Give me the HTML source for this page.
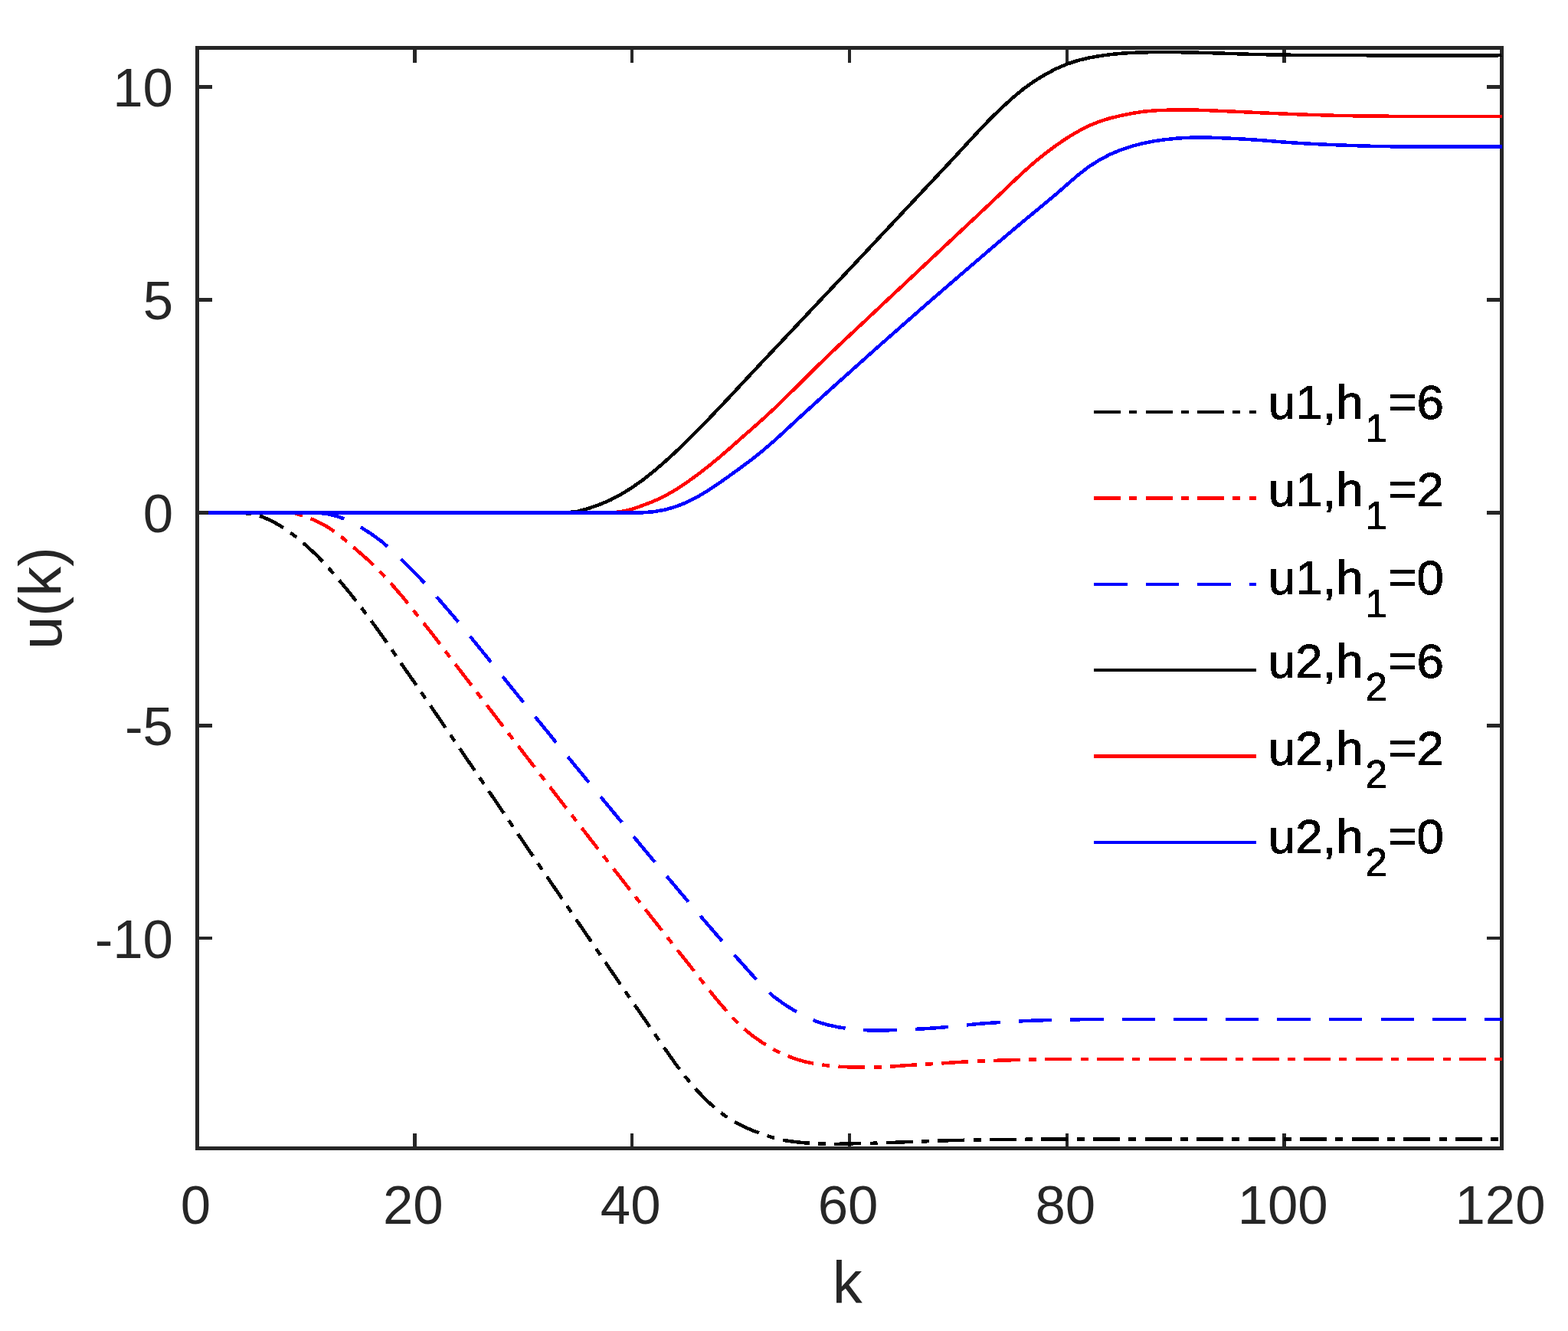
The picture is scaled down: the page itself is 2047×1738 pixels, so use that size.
<!DOCTYPE html>
<html lang="en"><head><meta charset="utf-8"><title>u(k)</title>
<style>
html,body{margin:0;padding:0;background:#fff}
body{width:2047px;height:1738px;overflow:hidden}
svg{display:block}
text{font-family:"Liberation Sans",sans-serif}
.t{font-size:70.8px;fill:#262626}
.l{font-size:77.9px;fill:#262626}
.g{font-size:63.75px;fill:#000;stroke:#000;stroke-width:0.6px}
.s{font-size:51.0px;fill:#000;stroke:#000;stroke-width:0.6px}
.c{fill:none;stroke-width:4.5;stroke-linejoin:round}
</style></head><body>
<svg width="2047" height="1738" viewBox="0 0 2047 1738">
<defs><filter id="al" x="-5%" y="-5%" width="110%" height="110%"><feComponentTransfer><feFuncA type="discrete" tableValues="0 1 1"/></feComponentTransfer></filter></defs>
<rect x="0" y="0" width="2047" height="1738" fill="#fff"/>
<g stroke="#262626" stroke-width="4.4" fill="none" shape-rendering="crispEdges">
<rect x="257.5" y="62.5" width="1703.0" height="1437.0"/>
<line x1="541.33" y1="1497.0" x2="541.33" y2="1480.0"/>
<line x1="541.33" y1="65.0" x2="541.33" y2="82.0"/>
<line x1="825.17" y1="1497.0" x2="825.17" y2="1480.0"/>
<line x1="825.17" y1="65.0" x2="825.17" y2="82.0"/>
<line x1="1109.00" y1="1497.0" x2="1109.00" y2="1480.0"/>
<line x1="1109.00" y1="65.0" x2="1109.00" y2="82.0"/>
<line x1="1392.83" y1="1497.0" x2="1392.83" y2="1480.0"/>
<line x1="1392.83" y1="65.0" x2="1392.83" y2="82.0"/>
<line x1="1676.67" y1="1497.0" x2="1676.67" y2="1480.0"/>
<line x1="1676.67" y1="65.0" x2="1676.67" y2="82.0"/>
<line x1="260.0" y1="113.50" x2="277.0" y2="113.50"/>
<line x1="1958.0" y1="113.50" x2="1941.0" y2="113.50"/>
<line x1="260.0" y1="391.50" x2="277.0" y2="391.50"/>
<line x1="1958.0" y1="391.50" x2="1941.0" y2="391.50"/>
<line x1="260.0" y1="669.50" x2="277.0" y2="669.50"/>
<line x1="1958.0" y1="669.50" x2="1941.0" y2="669.50"/>
<line x1="260.0" y1="947.30" x2="277.0" y2="947.30"/>
<line x1="1958.0" y1="947.30" x2="1941.0" y2="947.30"/>
<line x1="260.0" y1="1225.00" x2="277.0" y2="1225.00"/>
<line x1="1958.0" y1="1225.00" x2="1941.0" y2="1225.00"/>
</g>
<g class="t" text-anchor="middle">
<text x="255.5" y="1598.3">0</text>
<text x="539.3" y="1598.3">20</text>
<text x="823.2" y="1598.3">40</text>
<text x="1107.0" y="1598.3">60</text>
<text x="1390.8" y="1598.3">80</text>
<text x="1674.7" y="1598.3">100</text>
<text x="1958.5" y="1598.3">120</text>
</g>
<g class="t" text-anchor="end">
<text x="226.0" y="139.2">10</text>
<text x="226.0" y="417.2">5</text>
<text x="226.0" y="695.2">0</text>
<text x="226.0" y="973.0">-5</text>
<text x="226.0" y="1250.7">-10</text>
</g>
<text class="l" text-anchor="middle" x="1106.3" y="1702.2">k</text>
<text class="l" text-anchor="middle" transform="translate(80 781) rotate(-90)">u(k)</text>
<g class="c" shape-rendering="crispEdges">
<polyline stroke="#000" stroke-dasharray="35 11.28 10 11.28" points="271.7,669.5 285.9,669.5 300.1,669.4 314.3,669.6 328.5,671.0 342.6,674.8 356.8,681.3 371.0,689.7 385.2,700.1 399.4,712.1 413.6,725.2 427.8,740.3 442.0,756.8 456.2,773.7 470.4,791.8 484.6,810.6 498.8,830.2 513.0,850.7 527.1,871.2 541.3,891.5 555.5,912.0 569.7,932.8 583.9,953.6 598.1,974.4 612.3,995.2 626.5,1016.0 640.7,1036.8 654.9,1057.7 669.1,1078.5 683.2,1099.4 697.4,1120.2 711.6,1141.1 725.8,1161.9 740.0,1182.7 754.2,1203.6 768.4,1224.4 782.6,1245.2 796.8,1266.0 811.0,1286.8 825.2,1307.4 839.4,1327.9 853.5,1348.3 867.7,1369.0 881.9,1389.2 896.1,1407.7 910.3,1424.4 924.5,1438.8 938.7,1451.3 952.9,1461.5 967.1,1469.3 981.3,1475.7 995.5,1481.1 1009.7,1485.6 1023.9,1489.1 1038.0,1491.1 1052.2,1492.4 1066.4,1493.2 1080.6,1493.7 1094.8,1493.8 1109.0,1493.4 1123.2,1493.0 1137.4,1492.8 1151.6,1492.5 1165.8,1491.9 1180.0,1491.3 1194.2,1490.8 1208.3,1490.3 1222.5,1489.8 1236.7,1489.3 1250.9,1488.9 1265.1,1488.6 1279.3,1488.4 1293.5,1488.2 1307.7,1488.0 1321.9,1487.9 1336.1,1487.8 1350.3,1487.6 1364.5,1487.5 1378.6,1487.5 1392.8,1487.5 1407.0,1487.5 1421.2,1487.5 1435.4,1487.5 1449.6,1487.5 1463.8,1487.5 1478.0,1487.5 1492.2,1487.5 1506.4,1487.5 1520.6,1487.5 1534.8,1487.5 1548.9,1487.5 1563.1,1487.5 1577.3,1487.5 1591.5,1487.5 1605.7,1487.5 1619.9,1487.5 1634.1,1487.5 1648.3,1487.5 1662.5,1487.5 1676.7,1487.5 1690.9,1487.5 1705.0,1487.5 1719.2,1487.5 1733.4,1487.5 1747.6,1487.5 1761.8,1487.5 1776.0,1487.5 1790.2,1487.5 1804.4,1487.5 1818.6,1487.5 1832.8,1487.5 1847.0,1487.5 1861.2,1487.5 1875.3,1487.5 1889.5,1487.5 1903.7,1487.5 1917.9,1487.5 1932.1,1487.5 1946.3,1487.5 1960.5,1487.5"/>
<polyline stroke="#f00" stroke-dasharray="35 11.28 10 11.28" points="271.7,669.5 285.9,669.5 300.1,669.5 314.3,669.5 328.5,669.5 342.6,669.5 356.8,669.5 371.0,669.4 385.2,670.4 399.4,674.4 413.6,680.7 427.8,688.2 442.0,697.9 456.2,710.0 470.4,722.3 484.6,734.8 498.8,749.3 513.0,764.8 527.1,781.2 541.3,799.0 555.5,816.7 569.7,834.7 583.9,853.5 598.1,872.1 612.3,890.6 626.5,909.1 640.7,927.5 654.9,946.0 669.1,964.4 683.2,982.8 697.4,1001.2 711.6,1019.5 725.8,1037.8 740.0,1056.2 754.2,1074.4 768.4,1092.7 782.6,1110.9 796.8,1129.1 811.0,1147.3 825.2,1165.4 839.4,1183.5 853.5,1201.5 867.7,1219.5 881.9,1237.4 896.1,1255.2 910.3,1273.3 924.5,1291.4 938.7,1308.8 952.9,1325.1 967.1,1339.7 981.3,1351.7 995.5,1361.6 1009.7,1370.3 1023.9,1377.3 1038.0,1382.6 1052.2,1386.7 1066.4,1389.6 1080.6,1391.4 1094.8,1392.7 1109.0,1393.4 1123.2,1393.5 1137.4,1393.5 1151.6,1393.3 1165.8,1392.5 1180.0,1391.4 1194.2,1390.5 1208.3,1389.7 1222.5,1388.9 1236.7,1387.9 1250.9,1387.0 1265.1,1386.2 1279.3,1385.5 1293.5,1385.0 1307.7,1384.6 1321.9,1384.2 1336.1,1383.8 1350.3,1383.5 1364.5,1383.2 1378.6,1382.9 1392.8,1382.9 1407.0,1382.8 1421.2,1382.8 1435.4,1382.8 1449.6,1382.8 1463.8,1382.8 1478.0,1382.8 1492.2,1382.8 1506.4,1382.8 1520.6,1382.8 1534.8,1382.8 1548.9,1382.8 1563.1,1382.8 1577.3,1382.8 1591.5,1382.8 1605.7,1382.8 1619.9,1382.8 1634.1,1382.8 1648.3,1382.8 1662.5,1382.8 1676.7,1382.8 1690.9,1382.8 1705.0,1382.8 1719.2,1382.8 1733.4,1382.8 1747.6,1382.8 1761.8,1382.8 1776.0,1382.8 1790.2,1382.8 1804.4,1382.8 1818.6,1382.8 1832.8,1382.8 1847.0,1382.8 1861.2,1382.8 1875.3,1382.8 1889.5,1382.8 1903.7,1382.8 1917.9,1382.8 1932.1,1382.8 1946.3,1382.8 1960.5,1382.8"/>
<polyline stroke="#00f" stroke-dasharray="43.5 24.06" points="271.7,669.5 285.9,669.5 300.1,669.5 314.3,669.5 328.5,669.5 342.6,669.5 356.8,669.5 371.0,669.5 385.2,669.5 399.4,669.4 413.6,669.6 427.8,671.0 442.0,674.7 456.2,680.4 470.4,688.1 484.6,697.1 498.8,707.5 513.0,719.9 527.1,733.6 541.3,747.6 555.5,762.7 569.7,778.9 583.9,795.3 598.1,811.9 612.3,829.2 626.5,846.7 640.7,864.1 654.9,881.8 669.1,899.4 683.2,916.9 697.4,934.4 711.6,951.8 725.8,969.2 740.0,986.6 754.2,1003.9 768.4,1021.2 782.6,1038.5 796.8,1055.7 811.0,1072.9 825.2,1090.0 839.4,1107.1 853.5,1124.1 867.7,1141.0 881.9,1157.8 896.1,1174.6 910.3,1191.3 924.5,1207.8 938.7,1224.3 952.9,1240.5 967.1,1256.4 981.3,1272.3 995.5,1287.7 1009.7,1301.0 1023.9,1311.4 1038.0,1320.2 1052.2,1328.1 1066.4,1334.1 1080.6,1338.3 1094.8,1341.3 1109.0,1343.5 1123.2,1345.0 1137.4,1345.4 1151.6,1345.4 1165.8,1345.2 1180.0,1344.7 1194.2,1343.9 1208.3,1343.2 1222.5,1342.2 1236.7,1341.0 1250.9,1339.6 1265.1,1338.1 1279.3,1336.7 1293.5,1335.7 1307.7,1334.8 1321.9,1333.9 1336.1,1333.2 1350.3,1332.6 1364.5,1332.2 1378.6,1331.8 1392.8,1331.5 1407.0,1331.3 1421.2,1331.1 1435.4,1331.0 1449.6,1330.9 1463.8,1330.9 1478.0,1330.9 1492.2,1330.9 1506.4,1330.9 1520.6,1330.9 1534.8,1330.9 1548.9,1330.9 1563.1,1330.9 1577.3,1330.9 1591.5,1330.9 1605.7,1330.9 1619.9,1330.9 1634.1,1330.9 1648.3,1330.9 1662.5,1330.9 1676.7,1330.9 1690.9,1330.9 1705.0,1330.9 1719.2,1330.9 1733.4,1330.9 1747.6,1330.9 1761.8,1330.9 1776.0,1330.9 1790.2,1330.9 1804.4,1330.9 1818.6,1330.9 1832.8,1330.9 1847.0,1330.9 1861.2,1330.9 1875.3,1330.9 1889.5,1330.9 1903.7,1330.9 1917.9,1330.9 1932.1,1330.9 1946.3,1330.9 1960.5,1330.9"/>
<polyline stroke="#000" points="271.7,669.5 285.9,669.5 300.1,669.5 314.3,669.5 328.5,669.5 342.6,669.5 356.8,669.5 371.0,669.5 385.2,669.5 399.4,669.5 413.6,669.5 427.8,669.5 442.0,669.5 456.2,669.5 470.4,669.5 484.6,669.5 498.8,669.5 513.0,669.5 527.1,669.5 541.3,669.5 555.5,669.5 569.7,669.5 583.9,669.5 598.1,669.5 612.3,669.5 626.5,669.5 640.7,669.5 654.9,669.5 669.1,669.5 683.2,669.5 697.4,669.5 711.6,669.5 725.8,669.6 740.0,669.4 754.2,667.7 768.4,663.9 782.6,658.9 796.8,652.9 811.0,645.4 825.2,636.6 839.4,626.6 853.5,615.4 867.7,603.2 881.9,590.2 896.1,576.5 910.3,562.3 924.5,547.8 938.7,532.9 952.9,517.9 967.1,502.6 981.3,487.4 995.5,472.2 1009.7,457.2 1023.9,442.1 1038.0,427.1 1052.2,412.0 1066.4,396.9 1080.6,381.8 1094.8,366.7 1109.0,351.6 1123.2,336.5 1137.4,321.3 1151.6,306.1 1165.8,291.0 1180.0,275.8 1194.2,260.7 1208.3,245.6 1222.5,230.5 1236.7,215.4 1250.9,200.1 1265.1,184.6 1279.3,169.3 1293.5,154.5 1307.7,140.8 1321.9,127.9 1336.1,116.1 1350.3,105.9 1364.5,97.3 1378.6,89.8 1392.8,83.7 1407.0,79.0 1421.2,75.6 1435.4,73.1 1449.6,71.1 1463.8,69.8 1478.0,68.9 1492.2,68.4 1506.4,68.1 1520.6,68.0 1534.8,68.1 1548.9,68.4 1563.1,68.7 1577.3,69.1 1591.5,69.5 1605.7,70.0 1619.9,70.4 1634.1,70.9 1648.3,71.2 1662.5,71.4 1676.7,71.7 1690.9,71.8 1705.0,71.9 1719.2,72.0 1733.4,72.0 1747.6,72.1 1761.8,72.1 1776.0,72.2 1790.2,72.3 1804.4,72.4 1818.6,72.5 1832.8,72.5 1847.0,72.6 1861.2,72.6 1875.3,72.6 1889.5,72.6 1903.7,72.6 1917.9,72.6 1932.1,72.6 1946.3,72.4 1960.5,72.2"/>
<polyline stroke="#f00" points="271.7,669.5 285.9,669.5 300.1,669.5 314.3,669.5 328.5,669.5 342.6,669.5 356.8,669.5 371.0,669.5 385.2,669.5 399.4,669.5 413.6,669.5 427.8,669.5 442.0,669.5 456.2,669.5 470.4,669.5 484.6,669.5 498.8,669.5 513.0,669.5 527.1,669.5 541.3,669.5 555.5,669.5 569.7,669.5 583.9,669.5 598.1,669.5 612.3,669.5 626.5,669.5 640.7,669.5 654.9,669.5 669.1,669.5 683.2,669.5 697.4,669.5 711.6,669.5 725.8,669.5 740.0,669.5 754.2,669.5 768.4,669.5 782.6,669.5 796.8,669.5 811.0,668.2 825.2,664.7 839.4,659.9 853.5,654.4 867.7,647.8 881.9,639.7 896.1,630.3 910.3,620.1 924.5,609.1 938.7,597.5 952.9,585.2 967.1,572.6 981.3,560.2 995.5,547.6 1009.7,534.5 1023.9,520.8 1038.0,506.9 1052.2,492.9 1066.4,478.7 1080.6,464.9 1094.8,451.3 1109.0,438.0 1123.2,424.7 1137.4,411.4 1151.6,398.0 1165.8,384.7 1180.0,371.4 1194.2,358.1 1208.3,344.8 1222.5,331.5 1236.7,318.2 1250.9,304.9 1265.1,291.6 1279.3,278.3 1293.5,264.9 1307.7,251.5 1321.9,237.9 1336.1,224.6 1350.3,212.0 1364.5,200.5 1378.6,189.9 1392.8,180.3 1407.0,171.8 1421.2,164.4 1435.4,158.6 1449.6,154.2 1463.8,150.9 1478.0,148.0 1492.2,145.8 1506.4,144.4 1520.6,143.8 1534.8,143.5 1548.9,143.5 1563.1,143.7 1577.3,144.2 1591.5,144.8 1605.7,145.4 1619.9,146.1 1634.1,146.7 1648.3,147.4 1662.5,148.0 1676.7,148.6 1690.9,149.2 1705.0,149.7 1719.2,150.1 1733.4,150.6 1747.6,150.9 1761.8,151.2 1776.0,151.4 1790.2,151.6 1804.4,151.7 1818.6,151.8 1832.8,151.8 1847.0,151.9 1861.2,151.9 1875.3,151.9 1889.5,151.9 1903.7,152.0 1917.9,152.0 1932.1,152.0 1946.3,152.0 1960.5,152.0"/>
<polyline stroke="#00f" points="271.7,669.5 285.9,669.5 300.1,669.5 314.3,669.5 328.5,669.5 342.6,669.5 356.8,669.5 371.0,669.5 385.2,669.5 399.4,669.5 413.6,669.5 427.8,669.5 442.0,669.5 456.2,669.5 470.4,669.5 484.6,669.5 498.8,669.5 513.0,669.5 527.1,669.5 541.3,669.5 555.5,669.5 569.7,669.5 583.9,669.5 598.1,669.5 612.3,669.5 626.5,669.5 640.7,669.5 654.9,669.5 669.1,669.5 683.2,669.5 697.4,669.5 711.6,669.5 725.8,669.5 740.0,669.5 754.2,669.5 768.4,669.5 782.6,669.5 796.8,669.5 811.0,669.5 825.2,669.5 839.4,669.3 853.5,668.2 867.7,665.7 881.9,661.7 896.1,656.1 910.3,648.9 924.5,640.4 938.7,630.9 952.9,620.9 967.1,610.6 981.3,600.0 995.5,588.7 1009.7,576.5 1023.9,563.6 1038.0,550.4 1052.2,537.4 1066.4,524.5 1080.6,511.6 1094.8,498.9 1109.0,486.2 1123.2,473.5 1137.4,460.8 1151.6,448.2 1165.8,435.7 1180.0,423.2 1194.2,410.7 1208.3,398.3 1222.5,386.0 1236.7,373.8 1250.9,361.5 1265.1,349.3 1279.3,337.1 1293.5,324.9 1307.7,312.8 1321.9,300.8 1336.1,288.9 1350.3,277.1 1364.5,265.4 1378.6,253.6 1392.8,241.2 1407.0,228.9 1421.2,217.9 1435.4,208.8 1449.6,201.4 1463.8,195.5 1478.0,190.8 1492.2,187.1 1506.4,184.3 1520.6,182.3 1534.8,180.8 1548.9,179.9 1563.1,179.4 1577.3,179.6 1591.5,180.1 1605.7,180.7 1619.9,181.4 1634.1,182.3 1648.3,183.3 1662.5,184.5 1676.7,185.6 1690.9,186.6 1705.0,187.4 1719.2,188.2 1733.4,188.8 1747.6,189.4 1761.8,189.9 1776.0,190.4 1790.2,190.8 1804.4,191.1 1818.6,191.3 1832.8,191.4 1847.0,191.5 1861.2,191.5 1875.3,191.6 1889.5,191.6 1903.7,191.6 1917.9,191.6 1932.1,191.6 1946.3,191.6 1960.5,191.6"/>
</g>
<g class="c" shape-rendering="crispEdges">
<line stroke="#000" stroke-dasharray="35 11.28 10 11.28" x1="1428" y1="538.0" x2="1640" y2="538.0"/>
<line stroke="#f00" stroke-dasharray="35 11.28 10 11.28" x1="1428" y1="650.5" x2="1640" y2="650.5"/>
<line stroke="#00f" stroke-dasharray="43.5 24.06" x1="1428" y1="763.0" x2="1640" y2="763.0"/>
<line stroke="#000" x1="1428" y1="875.0" x2="1640" y2="875.0"/>
<line stroke="#f00" x1="1428" y1="987.5" x2="1640" y2="987.5"/>
<line stroke="#00f" x1="1428" y1="1100.0" x2="1640" y2="1100.0"/>
</g>
<g filter="url(#al)">
<text class="g" x="1655.7" y="546.7">u1,h<tspan class="s" x="1782.5" dy="30">1</tspan><tspan x="1812.4" dy="-30">=6</tspan></text>
<text class="g" x="1655.7" y="660.7">u1,h<tspan class="s" x="1782.5" dy="30">1</tspan><tspan x="1812.4" dy="-30">=2</tspan></text>
<text class="g" x="1655.7" y="776.0">u1,h<tspan class="s" x="1782.5" dy="30">1</tspan><tspan x="1812.4" dy="-30">=0</tspan></text>
<text class="g" x="1655.7" y="885.1">u2,h<tspan class="s" x="1782.5" dy="30">2</tspan><tspan x="1812.4" dy="-30">=6</tspan></text>
<text class="g" x="1655.7" y="998.5">u2,h<tspan class="s" x="1782.5" dy="30">2</tspan><tspan x="1812.4" dy="-30">=2</tspan></text>
<text class="g" x="1655.7" y="1114.0">u2,h<tspan class="s" x="1782.5" dy="30">2</tspan><tspan x="1812.4" dy="-30">=0</tspan></text>
</g>
</svg></body></html>
